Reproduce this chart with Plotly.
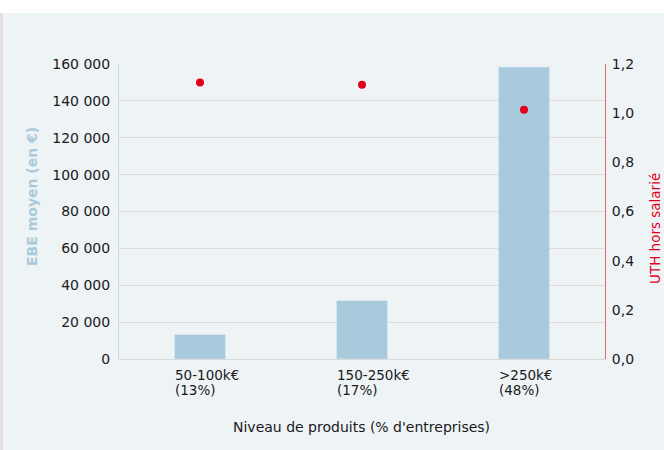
import plotly.graph_objects as go

categories = ["50-100k€", "150-250k€", ">250k€"]
shares = ["(13%)", "(17%)", "(48%)"]
ebe_values = [13300, 31700, 158400]
uth_values = [1.125, 1.116, 1.014]
left_ticks = [0, 20000, 40000, 60000, 80000, 100000, 120000, 140000, 160000]
right_ticks = [0.0, 0.2, 0.4, 0.6, 0.8, 1.0, 1.2]

W, H = 664, 450
ML, MR, MT, MB = 119, 59, 64, 91
PW, PH = W - ML - MR, H - MT - MB

def fx(px):
    return (px - ML) / PW

def fy(py):
    return (H - MB - py) / PH

FONT = "DejaVu Sans"
BAR_C = "#a9cadc"
RED = "#e2001a"

fig = go.Figure()
fig.add_trace(go.Bar(x=categories, y=ebe_values, marker_color=BAR_C, width=0.315,
                     yaxis="y", showlegend=False))
fig.add_trace(go.Scatter(x=categories, y=uth_values, mode="markers", yaxis="y2",
                         marker=dict(color=RED, size=8), showlegend=False))

shapes = [
    dict(type="rect", xref="paper", yref="paper", x0=fx(7), x1=fx(664), y0=fy(450), y1=fy(13),
         fillcolor="#eef3f6", line_width=0, layer="below"),
    dict(type="rect", xref="paper", yref="paper", x0=fx(0), x1=fx(3), y0=fy(450), y1=fy(13),
         fillcolor="#e2e2e2", line_width=0, layer="below"),
    dict(type="rect", xref="paper", yref="paper", x0=fx(3), x1=fx(7), y0=fy(450), y1=fy(13),
         fillcolor="#f3f3f3", line_width=0, layer="below"),
]

annotations = []
for c, s in zip(categories, shares):
    annotations.append(dict(x=c, xref="x", y=0, yref="paper", text=c, showarrow=False,
                            xanchor="left", yanchor="top", xshift=-27, yshift=-6,
                            font=dict(family=FONT, size=13.5, color="#1a1a1a")))
    annotations.append(dict(x=c, xref="x", y=0, yref="paper", text=s, showarrow=False,
                            xanchor="left", yanchor="top", xshift=-27, yshift=-21,
                            font=dict(family=FONT, size=13.5, color="#1a1a1a")))

annotations.append(dict(x=fx(361), y=fy(427), xref="paper", yref="paper",
                        text="Niveau de produits (% d'entreprises)", showarrow=False,
                        xanchor="center", yanchor="middle",
                        font=dict(family=FONT, size=14, color="#1a1a1a")))
annotations.append(dict(x=fx(32), y=fy(197), xref="paper", yref="paper",
                        text="<b>EBE moyen (en €)</b>", showarrow=False, textangle=-90,
                        xanchor="center", yanchor="middle",
                        font=dict(family=FONT, size=14, color=BAR_C)))
annotations.append(dict(x=fx(655), y=fy(229), xref="paper", yref="paper",
                        text="UTH hors salarié", showarrow=False, textangle=-90,
                        xanchor="center", yanchor="middle",
                        font=dict(family=FONT, size=13.5, color=RED)))

fig.update_layout(
    width=W, height=H,
    margin=dict(l=ML, r=MR, t=MT, b=MB, pad=0, autoexpand=False),
    paper_bgcolor="white", plot_bgcolor="rgba(0,0,0,0)",
    separators=", ",
    font=dict(family=FONT, size=14, color="#1a1a1a"),
    xaxis=dict(showticklabels=False, showgrid=False, showline=True, linecolor="#d9d9d9",
               linewidth=1, zeroline=False, ticks=""),
    yaxis=dict(range=[0, 160000], tickvals=left_ticks, tickformat=",d",
               showgrid=True, gridcolor="#dcdcdc", gridwidth=1, zeroline=False,
               showline=True, linecolor="#c6dde8", linewidth=1,
               ticks="outside", ticklen=5, tickcolor="rgba(0,0,0,0)",
               tickfont=dict(family=FONT, size=14, color="#1a1a1a")),
    yaxis2=dict(range=[0, 1.2], tickvals=right_ticks, tickformat=".1f", overlaying="y",
                side="right", showgrid=False, zeroline=False,
                showline=True, linecolor="#e36677", linewidth=1,
                ticks="outside", ticklen=3, tickcolor="rgba(0,0,0,0)",
                tickfont=dict(family=FONT, size=14, color="#1a1a1a")),
    shapes=shapes,
    annotations=annotations,
    bargap=0.2,
)

fig.write_html("out.html", config={"displayModeBar": False},
               post_script="document.body.style.margin='0';document.body.style.padding='0';")
